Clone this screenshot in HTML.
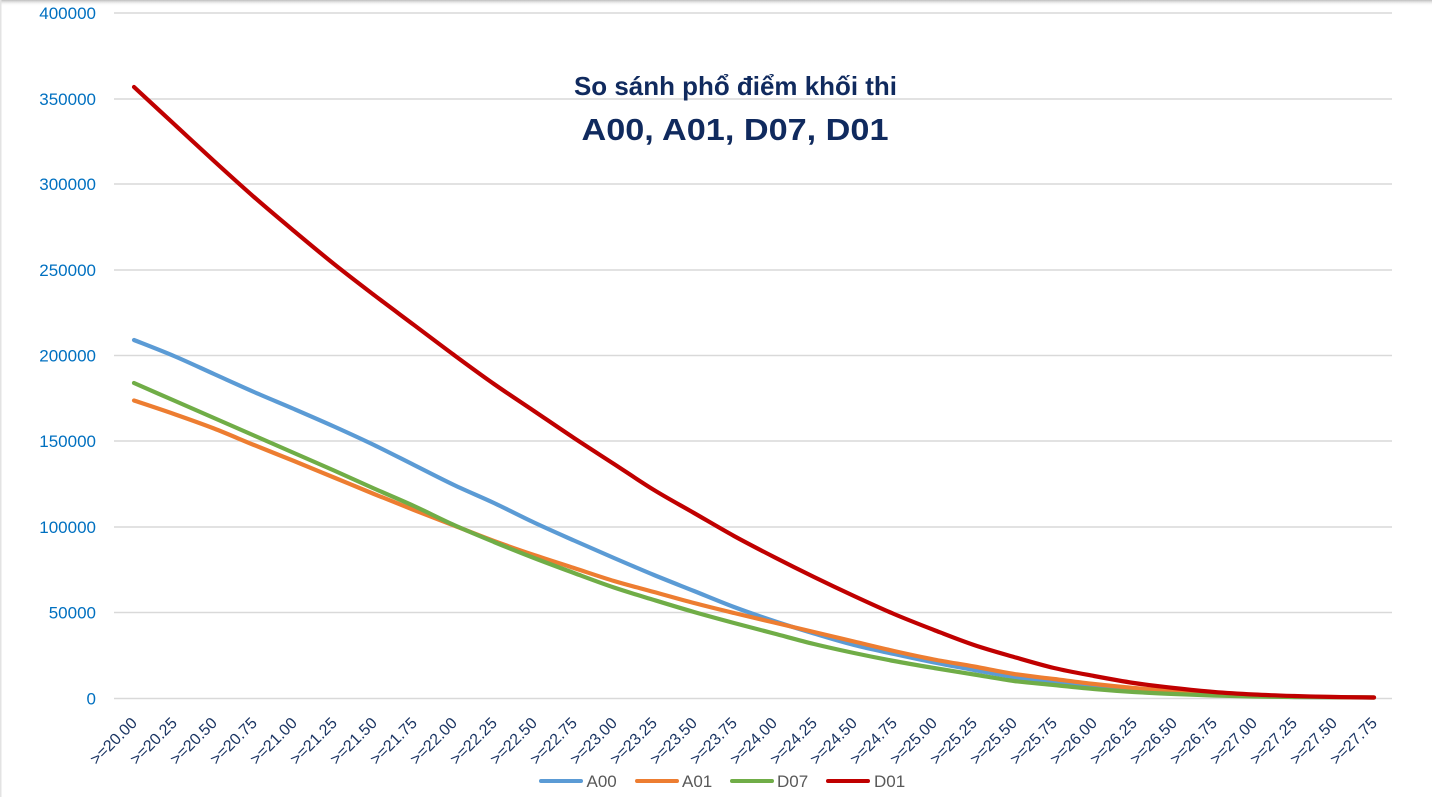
<!DOCTYPE html>
<html><head><meta charset="utf-8"><style>
html,body{margin:0;padding:0;background:#fff;}
svg{display:block;}
</style></head><body>
<svg id="chart" width="1432" height="797" viewBox="0 0 1432 797" xmlns="http://www.w3.org/2000/svg">
<defs>
<linearGradient id="sh" x1="0" y1="0" x2="0" y2="1">
<stop offset="0" stop-color="#bdbdbd"/>
<stop offset="1" stop-color="#ffffff" stop-opacity="0"/>
</linearGradient>
</defs>
<rect x="0" y="0" width="1432" height="797" fill="#fff"/>
<rect x="0" y="0" width="1432" height="6" fill="url(#sh)"/>
<rect x="0" y="0" width="1.5" height="797" fill="#e3e3e3"/>

<g stroke="#d9d9d9" stroke-width="1.6">
<line x1="114" y1="13" x2="1392" y2="13"/>
<line x1="114" y1="99" x2="1392" y2="99"/>
<line x1="114" y1="184" x2="1392" y2="184"/>
<line x1="114" y1="270" x2="1392" y2="270"/>
<line x1="114" y1="355.5" x2="1392" y2="355.5"/>
<line x1="114" y1="441" x2="1392" y2="441"/>
<line x1="114" y1="527" x2="1392" y2="527"/>
<line x1="114" y1="612.5" x2="1392" y2="612.5"/>
<line x1="114" y1="698.5" x2="1392" y2="698.5"/>
</g>

<g font-family="Liberation Sans, sans-serif" font-size="17" fill="#0070c0" text-anchor="end">
<text x="96" y="19">400000</text>
<text x="96" y="105">350000</text>
<text x="96" y="190">300000</text>
<text x="96" y="276">250000</text>
<text x="96" y="361.5">200000</text>
<text x="96" y="447">150000</text>
<text x="96" y="533">100000</text>
<text x="96" y="618.5">50000</text>
<text x="96" y="704.5">0</text>
</g>

<g font-family="Liberation Sans, sans-serif" font-weight="bold" fill="#102a5e" text-anchor="middle">
<text x="735.5" y="95" font-size="26" textLength="323" lengthAdjust="spacingAndGlyphs">So sánh phổ điểm khối thi</text>
<text x="735" y="140" font-size="31" textLength="307" lengthAdjust="spacingAndGlyphs">A00, A01, D07, D01</text>
</g>

<g id="series" fill="none" stroke-width="4.2" stroke-linejoin="round" stroke-linecap="round">
<polyline stroke="#5b9bd5" points="134,340 174,356 214,374 254,392 294,409 334,426.5 374,445 414,465 454,485 494,503 534,522.5 574,540.5 614,558 654,575 694,591 734,607 774,621 814,633.5 854,645 894,654 934,662.5 974,670 1014,677 1054,682.5 1094,687 1134,690.5 1174,693 1214,695 1254,696 1294,697 1334,697.3 1374,697.5"/>
<polyline stroke="#ed7d31" points="134,400.5 174,414 214,428.5 254,445 294,461 334,477.5 374,494 414,510 454,525.5 494,541 534,555 574,568 614,581 654,592 694,603 734,613 774,622.5 814,632 854,641.5 894,651 934,659.5 974,666.5 1014,674 1054,679 1094,684 1134,688 1174,691 1214,694 1254,695.5 1294,696.5 1334,697 1374,697.5"/>
<polyline stroke="#70ad47" points="134,383 174,400.5 214,418 254,435.5 294,453 334,470.5 374,488.5 414,506 454,525 494,542 534,558 574,573 614,587.5 654,600 694,612 734,623 774,633.5 814,644 854,653 894,661 934,668 974,674.5 1014,681 1054,685 1094,689 1134,692 1174,694 1214,695.5 1254,696.5 1294,697 1334,697.3 1374,697.5"/>
<polyline stroke="#c00000" points="134,87 174,124 214,161 254,197 294,231 334,264 374,295 414,325 454,355 494,384 534,411 574,438 614,464 654,490 694,513 734,536 774,557 814,577 854,596 894,614 934,630 974,645 1014,657 1054,668 1094,676 1134,683 1174,688 1214,692 1254,694.5 1294,696 1334,697 1374,697.5"/>
</g>

<g font-family="Liberation Sans, sans-serif" font-size="16" fill="#1b3563" text-anchor="end">
<text transform="translate(138,724) rotate(-45)">&gt;=20.00</text>
<text transform="translate(178,724) rotate(-45)">&gt;=20.25</text>
<text transform="translate(218,724) rotate(-45)">&gt;=20.50</text>
<text transform="translate(258,724) rotate(-45)">&gt;=20.75</text>
<text transform="translate(298,724) rotate(-45)">&gt;=21.00</text>
<text transform="translate(338,724) rotate(-45)">&gt;=21.25</text>
<text transform="translate(378,724) rotate(-45)">&gt;=21.50</text>
<text transform="translate(418,724) rotate(-45)">&gt;=21.75</text>
<text transform="translate(458,724) rotate(-45)">&gt;=22.00</text>
<text transform="translate(498,724) rotate(-45)">&gt;=22.25</text>
<text transform="translate(538,724) rotate(-45)">&gt;=22.50</text>
<text transform="translate(578,724) rotate(-45)">&gt;=22.75</text>
<text transform="translate(618,724) rotate(-45)">&gt;=23.00</text>
<text transform="translate(658,724) rotate(-45)">&gt;=23.25</text>
<text transform="translate(698,724) rotate(-45)">&gt;=23.50</text>
<text transform="translate(738,724) rotate(-45)">&gt;=23.75</text>
<text transform="translate(778,724) rotate(-45)">&gt;=24.00</text>
<text transform="translate(818,724) rotate(-45)">&gt;=24.25</text>
<text transform="translate(858,724) rotate(-45)">&gt;=24.50</text>
<text transform="translate(898,724) rotate(-45)">&gt;=24.75</text>
<text transform="translate(938,724) rotate(-45)">&gt;=25.00</text>
<text transform="translate(978,724) rotate(-45)">&gt;=25.25</text>
<text transform="translate(1018,724) rotate(-45)">&gt;=25.50</text>
<text transform="translate(1058,724) rotate(-45)">&gt;=25.75</text>
<text transform="translate(1098,724) rotate(-45)">&gt;=26.00</text>
<text transform="translate(1138,724) rotate(-45)">&gt;=26.25</text>
<text transform="translate(1178,724) rotate(-45)">&gt;=26.50</text>
<text transform="translate(1218,724) rotate(-45)">&gt;=26.75</text>
<text transform="translate(1258,724) rotate(-45)">&gt;=27.00</text>
<text transform="translate(1298,724) rotate(-45)">&gt;=27.25</text>
<text transform="translate(1338,724) rotate(-45)">&gt;=27.50</text>
<text transform="translate(1378,724) rotate(-45)">&gt;=27.75</text>
</g>

<g stroke-width="4" stroke-linecap="round">
<line x1="541" y1="781" x2="581" y2="781" stroke="#5b9bd5"/>
<line x1="637" y1="781" x2="677" y2="781" stroke="#ed7d31"/>
<line x1="732" y1="781" x2="772" y2="781" stroke="#70ad47"/>
<line x1="828" y1="781" x2="868" y2="781" stroke="#c00000"/>
</g>
<g font-family="Liberation Sans, sans-serif" font-size="17" fill="#595959">
<text x="586.5" y="787">A00</text>
<text x="682" y="787">A01</text>
<text x="777" y="787">D07</text>
<text x="874" y="787">D01</text>
</g>
</svg>
<script>
(function(){
  var NS="http://www.w3.org/2000/svg";
  var g=document.getElementById("series");
  var pls=g.querySelectorAll("polyline");
  for(var k=0;k<pls.length;k++){
    var pl=pls[k];
    var pts=pl.getAttribute("points").trim().split(/\s+/).map(function(s){var a=s.split(",");return [parseFloat(a[0]),parseFloat(a[1])];});
    var d="M"+pts[0][0]+","+pts[0][1];
    var t=1/6;
    for(var i=0;i<pts.length-1;i++){
      var p0=pts[i>0?i-1:i],p1=pts[i],p2=pts[i+1],p3=pts[i+2<pts.length?i+2:i+1];
      var c1x=p1[0]+(p2[0]-p0[0])*t,c1y=p1[1]+(p2[1]-p0[1])*t;
      var c2x=p2[0]-(p3[0]-p1[0])*t,c2y=p2[1]-(p3[1]-p1[1])*t;
      d+=" C"+c1x.toFixed(2)+","+c1y.toFixed(2)+" "+c2x.toFixed(2)+","+c2y.toFixed(2)+" "+p2[0]+","+p2[1];
    }
    var path=document.createElementNS(NS,"path");
    path.setAttribute("d",d);
    path.setAttribute("stroke",pl.getAttribute("stroke"));
    g.insertBefore(path,pl);
    g.removeChild(pl);
  }
})();
</script>
</body></html>
